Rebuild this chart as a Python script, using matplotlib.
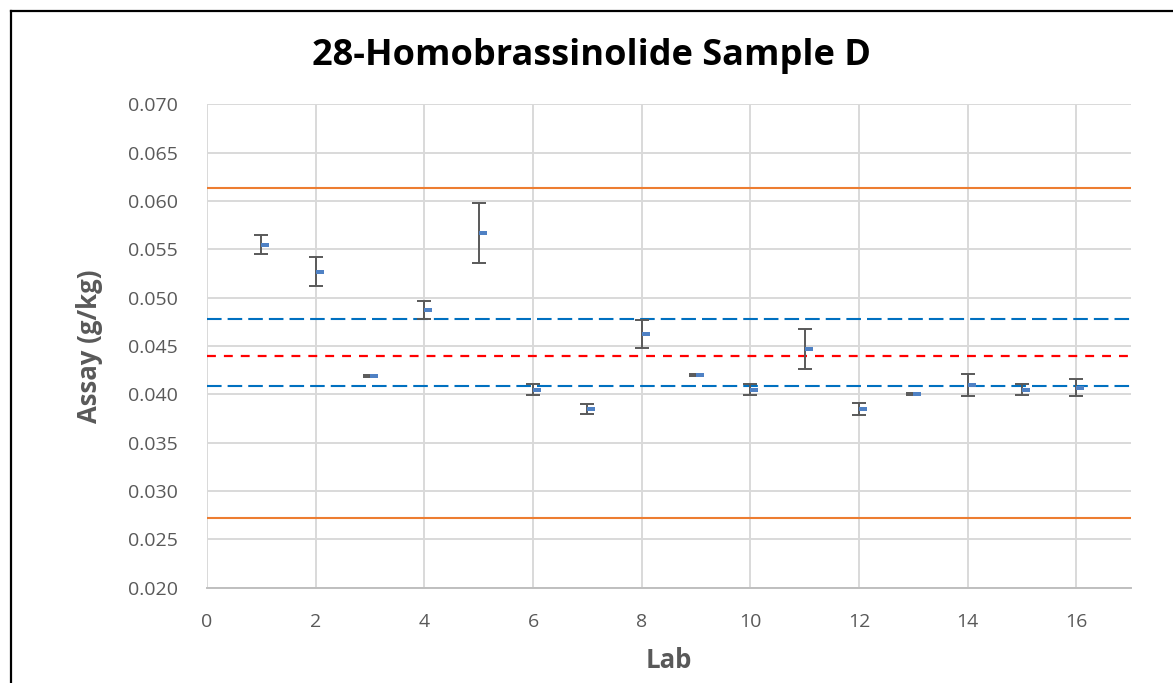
import matplotlib
matplotlib.use('Agg')
import matplotlib.pyplot as plt
from matplotlib.path import Path
from matplotlib.lines import Line2D
import numpy as np

# Lab results
labs = list(range(1, 17))
assay = [0.0555, 0.0527, 0.0419, 0.0487, 0.0567, 0.0405, 0.0385, 0.0462,
         0.0420, 0.0405, 0.0447, 0.0385, 0.0400, 0.0410, 0.0405, 0.0407]
assay_err = [0.0010, 0.0015, 0.0001, 0.00095, 0.0031, 0.0006, 0.0005, 0.00145,
             0.0001, 0.0006, 0.0021, 0.0006, 0.0001, 0.00115, 0.0006, 0.0009]

# Reference lines
mean_line = 0.0440
inner_limits = [0.0478, 0.0409]
outer_limits = [0.0613, 0.0272]

y_ticks = [0.020, 0.025, 0.030, 0.035, 0.040, 0.045, 0.050, 0.055, 0.060, 0.065, 0.070]
x_ticks = [0, 2, 4, 6, 8, 10, 12, 14, 16]

plt.rcParams['font.family'] = ['Open Sans', 'DejaVu Sans']

W, H = 1173, 683
fig = plt.figure(figsize=(W / 100, H / 100), dpi=100)
ax = fig.add_axes([207 / W, 1 - 587.7 / H, (1130.7 - 207) / W, (587.7 - 104.4) / H])

# outer chart frame (only left and top visible)
fig.add_artist(Line2D([10.5 / W, 10.5 / W], [0, 1 - 11 / H], transform=fig.transFigure,
                      color='black', lw=1.6))
fig.add_artist(Line2D([10.5 / W, 1], [1 - 11 / H, 1 - 11 / H], transform=fig.transFigure,
                      color='black', lw=1.6))

grid_c = '#D9D9D9'
for yt in y_ticks:
    ax.axhline(yt, color=grid_c, lw=1.4, zorder=0)
for xt in x_ticks:
    ax.axvline(xt, color=grid_c, lw=1.4, zorder=0)

for v in outer_limits:
    ax.axhline(v, color='#ED7D31', lw=1.5, zorder=2)
for v in inner_limits:
    ax.axhline(v, color='#0070C0', lw=1.5, dashes=(7, 2.9), zorder=2)
ax.axhline(mean_line, color='#FF0000', lw=1.6, dashes=(4, 3.6), zorder=2)

ax.errorbar(labs, assay, yerr=assay_err, fmt='none', ecolor='#595959',
            elinewidth=1.4, capsize=4.7, capthick=1.4, zorder=3)

# small dash marker starting at the point and extending right
dash = Path([(0, -0.28), (1, -0.28), (1, 0.28), (0, 0.28), (0, -0.28)],
            [Path.MOVETO, Path.LINETO, Path.LINETO, Path.LINETO, Path.CLOSEPOLY])
ax.plot(labs, assay, linestyle='none', marker=dash, markersize=12,
        markerfacecolor='#4F81C4', markeredgewidth=0, zorder=4)

ax.set_xlim(0, 17)
ax.set_ylim(0.020, 0.070)
ax.set_xticks(x_ticks)
ax.set_yticks(y_ticks)
ax.set_yticklabels([f'{v:.3f}' for v in y_ticks])
ax.tick_params(axis='both', length=0, labelsize=14, labelcolor='#595959')
ax.tick_params(axis='y', pad=21)
ax.tick_params(axis='x', pad=18)

for side in ['top', 'right', 'left']:
    ax.spines[side].set_visible(False)
ax.spines['bottom'].set_color('#BFBFBF')
ax.spines['bottom'].set_linewidth(1.4)

ax.set_xlabel('Lab', fontsize=18.5, fontweight='bold', color='#595959', labelpad=12)
ax.set_ylabel('Assay (g/kg)', fontsize=18.5, fontweight='bold', color='#595959', labelpad=18)
fig.text(592 / W, 1 - 56 / H, '28-Homobrassinolide Sample D', fontsize=26,
         fontweight='bold', ha='center', va='center', color='black')

fig.savefig('out.png', dpi=100)
